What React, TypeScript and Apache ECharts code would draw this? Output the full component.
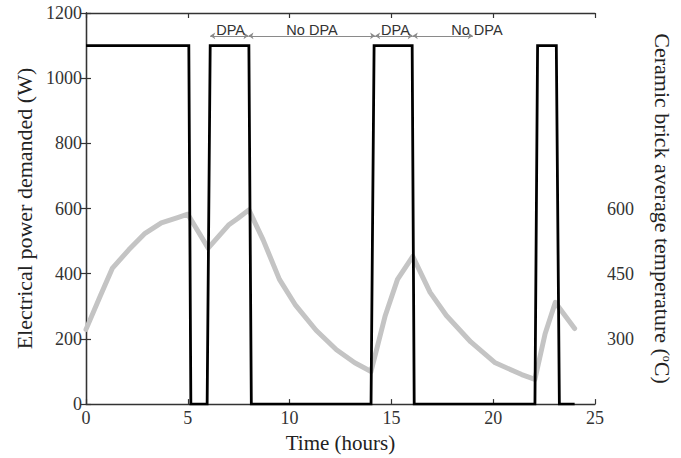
import React, { useEffect, useRef } from "react";
import * as echarts from "echarts";

// Electrical power demanded (W) — step profile
const powerTime = [0, 5.05, 5.15, 5.95, 6.1, 8.0, 8.12, 14.0, 14.15, 16.02, 16.12, 22.05, 22.18, 23.1, 23.25, 24];
const powerValue = [1100, 1100, 0, 0, 1100, 1100, 0, 0, 1100, 1100, 0, 0, 1100, 1100, 0, 0];

// Ceramic brick average temperature (°C)
const tempTime = [0, 0.7, 1.3, 2.1, 2.9, 3.7, 4.5, 5.0, 6.0, 7.0, 7.45, 8.0, 8.7, 9.5, 10.3, 11.3, 12.3, 13.2, 14.0, 14.7, 15.3, 16.05, 16.9, 17.7, 18.9, 20.1, 21.4, 22.05, 22.55, 23.05, 24];
const tempValue = [322, 399, 463, 505, 543, 567, 579, 587, 509, 562, 577, 597, 528, 437, 377, 320, 275, 245, 225, 354, 437, 490, 407, 354, 293, 245, 218, 207, 312, 384, 324];

// Annotation (DPA / No DPA) periods
const annoStart = [6.1, 7.98, 14.2, 16.05];
const annoEnd = [7.98, 14.2, 16.05, 19.0];
const annoLabels = ["DPA", "No DPA", "DPA", "No DPA"];
const annoLabelX = [7.1, 11.1, 15.2, 19.2];
const annoLineY = 1130;
const annoTextY = 1149;

// Tick settings
const xTicks = { min: 0, max: 25, interval: 5 };
const leftTicks = { min: 0, max: 1200, interval: 200 };
const rightTicks = { min: 150, max: 1050, interval: 150 };
const rightLabelled = [300, 450, 600];

const SERIF = "'Liberation Serif', 'Times New Roman', serif";
const SANS = "'Liberation Sans', Arial, sans-serif";
const AXIS_COLOR = "#333";

export default function App() {
  const ref = useRef<HTMLDivElement>(null);

  useEffect(() => {
    if (!ref.current) return;
    const chart = echarts.init(ref.current, undefined, { renderer: "svg" });

    const axisLine = { show: true, lineStyle: { color: AXIS_COLOR, width: 1.3 } };
    const axisTick = { show: true, inside: true, length: 5, lineStyle: { color: AXIS_COLOR, width: 1.2 } };

    chart.setOption({
      animation: false,
      backgroundColor: "#fff",
      grid: { left: 86, right: 76, top: 13, bottom: 48, containLabel: false },
      xAxis: [
        {
          type: "value",
          position: "bottom",
          ...xTicks,
          name: "Time (hours)",
          nameLocation: "middle",
          nameGap: 26,
          nameTextStyle: { fontFamily: SERIF, fontSize: 21, color: "#222" },
          axisLine,
          axisTick,
          splitLine: { show: false },
          axisLabel: { fontFamily: SERIF, fontSize: 18, color: "#333", margin: 5, formatter: (v: number) => String(v) },
        },
        {
          type: "value",
          position: "top",
          ...xTicks,
          axisLine,
          axisTick,
          splitLine: { show: false },
          axisLabel: { show: false },
        },
      ],
      yAxis: [
        {
          type: "value",
          position: "left",
          ...leftTicks,
          name: "Electrical power demanded (W)",
          nameLocation: "middle",
          nameGap: 50,
          nameTextStyle: { fontFamily: SERIF, fontSize: 22, color: "#222" },
          axisLine,
          axisTick,
          splitLine: { show: false },
          axisLabel: { fontFamily: SERIF, fontSize: 18, color: "#333", margin: 4, formatter: (v: number) => String(v) },
        },
        {
          type: "value",
          position: "right",
          ...rightTicks,
          name: "Ceramic brick average temperature ({sup|o}C)",
          nameLocation: "middle",
          nameRotate: -90,
          nameGap: 56,
          nameTextStyle: {
            fontFamily: SERIF,
            fontSize: 22,
            color: "#222",
            rich: { sup: { fontFamily: SERIF, fontSize: 12, color: "#222", padding: [0, 0, 10, 0] } },
          },
          axisLine,
          axisTick,
          splitLine: { show: false },
          axisLabel: {
            fontFamily: SERIF,
            fontSize: 18,
            color: "#333",
            margin: 12,
            formatter: (v: number) => (rightLabelled.indexOf(v) >= 0 ? String(v) : ""),
          },
        },
      ],
      series: [
        {
          name: "Temperature",
          type: "line",
          xAxisIndex: 0,
          yAxisIndex: 1,
          showSymbol: false,
          symbol: "none",
          z: 2,
          lineStyle: { color: "#c4c4c4", width: 5, cap: "round", join: "round" },
          data: tempTime.map((t, i) => [t, tempValue[i]]),
        },
        {
          name: "Power",
          type: "line",
          xAxisIndex: 0,
          yAxisIndex: 0,
          showSymbol: false,
          symbol: "none",
          z: 3,
          lineStyle: { color: "#000", width: 2.8, join: "miter" },
          data: powerTime.map((t, i) => [t, powerValue[i]]),
          markLine: {
            silent: true,
            symbol: ["arrow", "arrow"],
            symbolSize: 5,
            label: { show: false },
            lineStyle: { color: "#8a8a8a", width: 1, type: "solid" },
            data: annoStart.map((s, i) => [
              { coord: [s, annoLineY] },
              { coord: [annoEnd[i], annoLineY] },
            ]),
          },
          markPoint: {
            silent: true,
            symbol: "rect",
            symbolSize: 1,
            itemStyle: { color: "rgba(0,0,0,0)" },
            label: {
              show: true,
              position: "inside",
              formatter: "{b}",
              fontFamily: SANS,
              fontSize: 14.5,
              color: "#333",
            },
            data: annoLabels.map((name, i) => ({ name, coord: [annoLabelX[i], annoTextY] })),
          },
        },
      ],
    });

    return () => chart.dispose();
  }, []);

  return (
    <div
      ref={ref}
      style={{ position: "fixed", left: 0, top: 0, width: 681, height: 458, background: "#fff" }}
    />
  );
}
